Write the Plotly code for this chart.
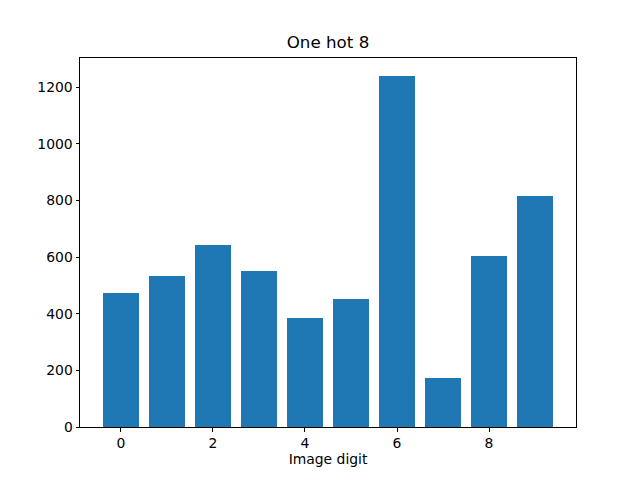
import plotly.graph_objects as go

digits = [0, 1, 2, 3, 4, 5, 6, 7, 8, 9]
counts = [473, 533, 642, 551, 385, 452, 1241, 174, 603, 815]
x_ticks = [0, 2, 4, 6, 8]
y_ticks = [0, 200, 400, 600, 800, 1000, 1200]

fig = go.Figure(go.Bar(x=digits, y=counts, width=0.8, marker=dict(color="#1f77b4", line=dict(width=0))))

font = dict(family="DejaVu Sans", size=13.9, color="black")
axis_common = dict(showline=True, linecolor="black", linewidth=1, mirror=True,
                   ticks="outside", ticklen=3.5, tickwidth=1, tickcolor="black",
                   showgrid=False, zeroline=False, tickfont=font)

# page body has an 8px margin, so the figure is 632x472 placed at (8, 8)
W, H = 632, 472
fig.update_layout(
    width=W, height=H,
    margin=dict(l=72, r=64, t=49.6, b=52.8),
    paper_bgcolor="white", plot_bgcolor="white",
    title=dict(text="One hot 8", x=0.5, xref="paper", xanchor="center",
               y=1 - 34 / H, yanchor="middle",
               font=dict(family="DejaVu Sans", size=16.7, color="black")),
    xaxis=dict(range=[-0.89, 9.89], tickvals=x_ticks,
               title=dict(text="Image digit", font=font, standoff=4), **axis_common),
    yaxis=dict(range=[0, 1303], tickvals=y_ticks, **axis_common),
    showlegend=False,
    bargap=0,
)

fig.write_html("out.html")
